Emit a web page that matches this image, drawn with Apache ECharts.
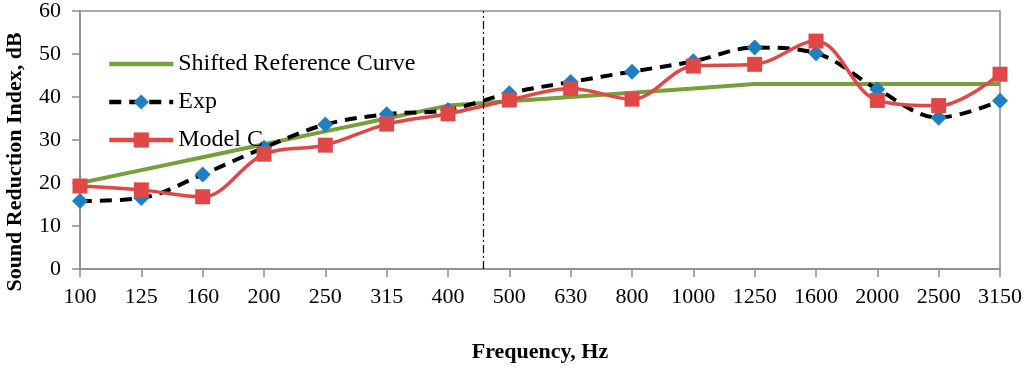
<!DOCTYPE html>
<html><head><meta charset="utf-8">
<script src="https://cdn.jsdelivr.net/npm/echarts@6/dist/echarts.min.js"></script>
<style>html,body{margin:0;padding:0;background:#fff}#c{width:1024px;height:373px}</style>
</head><body><div id="c"></div>
<script>
const categories = ['100','125','160','200','250','315','400','500','630','800','1000','1250','1600','2000','2500','3150'];
const shiftedRef = [20,23,26,29,32,35,38,39,40,41,42,43,43,43,43,43];
const expData = [15.8,16.5,22.0,28.2,33.6,36.0,37.0,40.9,43.5,45.9,48.3,51.5,50.2,41.8,35.2,39.1];
const modelC = [19.3,18.4,16.8,26.7,28.8,33.7,36.1,39.3,42.0,39.5,47.2,47.6,53.0,39.2,38.0,45.3];
const yTicks = {min:0, max:60, interval:10};
const dividerPos = 6.57; // position between 400 and 500 (index units)

const serif = '"Liberation Serif","Times New Roman",serif';
const chart = echarts.init(document.getElementById('c'));
chart.setOption({
  animation:false,
  grid:{left:80,right:24,top:11,bottom:104,show:true,borderColor:'#8c8c8c',borderWidth:1.5,outerBoundsMode:'none'},
  legend:{
    orient:'vertical', left:107, top:50, padding:0, itemGap:10, itemWidth:64, itemHeight:19, itemGap:10,
    textStyle:{fontFamily:serif,fontSize:24,color:'#000',lineHeight:28},
    data:[
      {name:'Shifted Reference Curve',itemStyle:{opacity:0},lineStyle:{width:4.5}},
      {name:'Exp',lineStyle:{width:4.5}},
      {name:'Model C',lineStyle:{width:4.5}}
    ]
  },
  xAxis:[{
    type:'category', data:categories, boundaryGap:false,
    axisLine:{lineStyle:{color:'#8c8c8c',width:1.5}},
    axisTick:{show:true,alignWithLabel:true,length:8,lineStyle:{color:'#8c8c8c',width:1.5}},
    axisLabel:{fontFamily:serif,fontSize:22,color:'#000',margin:17,interval:0},
    name:'Frequency, Hz', nameLocation:'middle', nameGap:72,
    nameTextStyle:{fontFamily:serif,fontSize:22,fontWeight:'bold',color:'#000'}
  },{
    type:'value', min:0, max:categories.length-1, show:false
  }],
  yAxis:{
    type:'value', min:yTicks.min, max:yTicks.max, interval:yTicks.interval,
    axisLine:{show:true,lineStyle:{color:'#8c8c8c',width:1.5}},
    axisTick:{show:true,length:8,lineStyle:{color:'#8c8c8c',width:1.5}},
    splitLine:{show:false},
    axisLabel:{fontFamily:serif,fontSize:22,color:'#000',margin:19},
    name:'Sound Reduction Index, dB', nameLocation:'middle', nameGap:54,
    nameTextStyle:{fontFamily:serif,fontSize:22,fontWeight:'bold',color:'#000',padding:[0,44,0,0]}
  },
  series:[
    {name:'Shifted Reference Curve',type:'line',data:shiftedRef,symbol:'none',
     lineStyle:{color:'#77a03a',width:4},itemStyle:{color:'#77a03a'},z:2},
    {name:'Exp',type:'line',data:expData,smooth:0.35,symbol:'diamond',symbolSize:16,
     lineStyle:{color:'#000',width:4,type:[12,8]},itemStyle:{color:'#1f7fc1'},z:3},
    {name:'Model C',type:'line',data:modelC,smooth:0.35,symbol:'rect',symbolSize:15,
     lineStyle:{color:'#e04848',width:3.5},itemStyle:{color:'#e04848'},z:4},
    {type:'line',xAxisIndex:1,data:[],silent:true,
     markLine:{symbol:'none',silent:true,label:{show:false},
       lineStyle:{color:'#000',width:1.2,type:[8,3,2,3]},
       data:[{xAxis:dividerPos}]}}
  ]
});
</script></body></html>
